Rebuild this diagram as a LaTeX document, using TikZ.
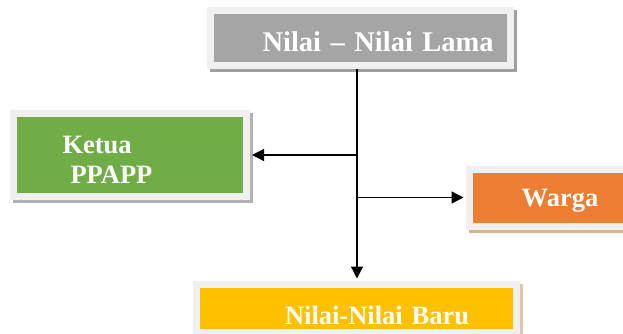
\documentclass[tikz,border=0pt]{standalone}
\usepackage{fontspec}
\setmainfont{Liberation Serif}
\usetikzlibrary{arrows.meta,calc}

\definecolor{framecol}{HTML}{F0F0F0}
\definecolor{lamagray}{HTML}{A5A5A5}
\definecolor{ketuagreen}{HTML}{70AD47}
\definecolor{wargaorange}{HTML}{ED7D31}
\definecolor{baruyellow}{HTML}{FFC000}

\begin{document}
\begin{tikzpicture}[x=1pt,y=-1pt,
  box/.style={draw=framecol, line width=7pt, inner sep=0pt, outer sep=3.5pt,
    text=white, align=left, text depth=0pt,
    font=\bfseries\fontsize{26.5}{30}\selectfont},
  boxshadow/.style={preaction={draw=#1, fill=#1, line width=7pt,
    transform canvas={shift={(3pt,-3pt)}}}},
  arr/.style={line width=1.3pt, -{Triangle[length=12pt,width=12pt]}, shorten >=2pt}]
\useasboundingbox (0,0) rectangle (623,334);

% boxes
\node[box, fill=lamagray, boxshadow=gray!75, minimum width=300pt, minimum height=55pt,
  text width=300pt, text height=28pt, font=\bfseries\fontsize{28.5}{32}\selectfont]
  (lama) at (360.5,38) {\hspace*{52pt}Nilai -- Nilai Lama};
\node[box, fill=ketuagreen, boxshadow=gray!60, minimum width=233pt, minimum height=83pt,
  text width=233pt, text height=18pt, text depth=22pt]
  (ketua) at (130,155) {\hspace*{49pt}Ketua\\\hspace*{57pt}PPAPP};
\node[box, fill=wargaorange, boxshadow={brown!60}, minimum width=182pt, minimum height=57pt,
  text width=182pt, align=center] (warga) at (560,197.5) {Warga};
\node[box, fill=baruyellow, boxshadow={brown!45}, minimum width=320pt, minimum height=48pt,
  text width=320pt, text height=32pt] (baru) at (356,308) {\hspace*{89pt}Nilai-Nilai Baru};

% Define the branch points.
\coordinate (trunk) at (357,0);
\coordinate (kiri) at (357,155);
\coordinate (kanan) at (357,197.5);

\draw[arr] (lama.south -| trunk) -- (baru.north -| trunk);
\draw[arr] (kiri) -- (ketua.east);
\draw[arr] (kanan) -- (warga.west);

\end{tikzpicture}
\end{document}
